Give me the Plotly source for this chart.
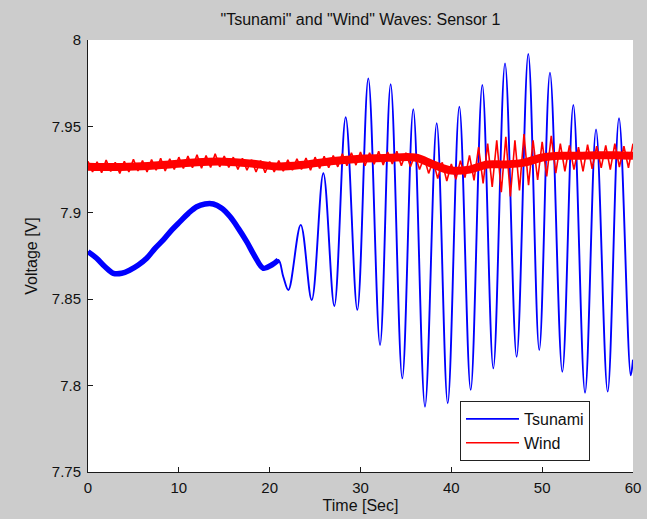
import plotly.graph_objects as go

# ---------------- data ----------------
tsunami_time = [0.0, 0.95, 1.87, 2.79, 3.71, 4.62, 5.54, 6.46, 7.38, 8.29, 9.21,
                10.13, 11.05, 11.97, 12.88, 13.8, 14.72, 15.63, 16.55, 17.47, 18.39,
                19.3, 20.22, 20.96, 21.5, 22.06, 23.42, 24.63, 25.91, 27.12, 28.37,
                29.65, 30.86, 32.15, 33.32, 34.6, 35.81, 37.1, 38.39, 39.6, 40.88,
                42.13, 43.41, 44.62, 45.91, 47.19, 48.47, 49.68, 50.86, 52.22, 53.43,
                54.72, 55.93, 57.21, 58.46, 59.75, 60.0]
tsunami_volt = [7.8775, 7.8737, 7.8688, 7.865, 7.865, 7.8669, 7.8698, 7.8737, 7.8794,
                7.8843, 7.890, 7.8949, 7.8997, 7.9035, 7.9051, 7.9051, 7.9026, 7.8978,
                7.891, 7.8833, 7.8746, 7.8679, 7.8698, 7.8727, 7.863, 7.8553, 7.893,
                7.8495, 7.9229, 7.8461, 7.9553, 7.8438, 7.9778, 7.8235, 7.9744, 7.8042,
                7.9599, 7.7878, 7.9518, 7.7898, 7.9614, 7.7975, 7.974, 7.810, 7.9865,
                7.8167, 7.9919, 7.8206, 7.9811, 7.808, 7.9624, 7.7959, 7.9483, 7.7965,
                7.9547, 7.806, 7.815]
tsunami_calm_end = 21.0   # before this time the trace is a thick noisy band

wind_center_time = [0, 3, 6, 9, 12, 15, 18, 21, 24, 27, 30, 33, 36, 38, 40, 42, 44,
                    46, 48, 50, 52, 54, 56, 58, 60]
wind_center_volt = [7.9267, 7.9265, 7.927, 7.928, 7.9293, 7.9296, 7.9285, 7.9268,
                    7.928, 7.930, 7.9313, 7.9318, 7.932, 7.928, 7.9245, 7.925, 7.928,
                    7.928, 7.929, 7.932, 7.933, 7.933, 7.9333, 7.9333, 7.933]

wind_time = [i * 0.5 for i in range(121)]
wind_volt = [7.9298, 7.9236, 7.9295, 7.9232, 7.9305, 7.9240, 7.9292, 7.9228, 7.9298, 7.9236,
             7.9310, 7.9242, 7.9302, 7.9236, 7.9308, 7.9246, 7.9316, 7.9242, 7.9312, 7.9251,
             7.9322, 7.9256, 7.9328, 7.9261, 7.9336, 7.9258, 7.9332, 7.9262, 7.9342, 7.9266,
             7.9328, 7.9262, 7.9322, 7.9251, 7.9316, 7.9246, 7.9307, 7.9236, 7.9302, 7.9232,
             7.9296, 7.9236, 7.9302, 7.9241, 7.9307, 7.9246, 7.9312, 7.9251, 7.9317, 7.9246,
             7.9322, 7.9256, 7.9327, 7.9261, 7.9332, 7.9266, 7.9342, 7.9272, 7.9347, 7.9276,
             7.9352, 7.9272, 7.9347, 7.9281, 7.9356, 7.9276, 7.9352, 7.9282, 7.9356, 7.9272,
             7.9347, 7.9266, 7.9338, 7.9250, 7.9322, 7.9228, 7.9302, 7.9198, 7.9292, 7.9184,
             7.9282, 7.9194, 7.9302, 7.9204, 7.9332, 7.9188, 7.9380, 7.9170, 7.9400, 7.9150,
             7.9420, 7.9120, 7.9440, 7.9095, 7.9420, 7.9130, 7.9455, 7.9160, 7.9420, 7.9190,
             7.9410, 7.9210, 7.9445, 7.9230, 7.9400, 7.9240, 7.9390, 7.9250, 7.9380, 7.9240,
             7.9395, 7.9255, 7.9385, 7.9260, 7.9390, 7.9250, 7.9400, 7.9265, 7.9385, 7.9260,
             7.9400]

x_tick_vals = [0, 10, 20, 30, 40, 50, 60]
y_tick_vals = [7.75, 7.8, 7.85, 7.9, 7.95, 8.0]
y_tick_text = ["7.75", "7.8", "7.85", "7.9", "7.95", "8"]

title_text = '"Tsunami" and "Wind" Waves: Sensor 1'
x_title = "Time [Sec]"
y_title = "Voltage [V]"

# ---------------- figure ----------------
FONT = "Liberation Sans, Arial, Helvetica, sans-serif"
BLUE = "#0000ff"
RED = "#ff0000"

calm_t = [t for t in tsunami_time if t <= tsunami_calm_end]
calm_v = tsunami_volt[:len(calm_t)]

fig = go.Figure()
fig.add_trace(go.Scatter(x=calm_t, y=calm_v, mode="lines",
                         line=dict(color=BLUE, width=5.5, shape="spline"),
                         showlegend=False, hoverinfo="skip"))
fig.add_trace(go.Scatter(x=tsunami_time, y=tsunami_volt, mode="lines", name="Tsunami",
                         line=dict(color=BLUE, width=1.9, shape="spline")))
fig.add_trace(go.Scatter(x=wind_center_time, y=wind_center_volt, mode="lines",
                         line=dict(color=RED, width=8, shape="spline"),
                         showlegend=False, hoverinfo="skip"))
fig.add_trace(go.Scatter(x=wind_time, y=wind_volt, mode="lines", name="Wind",
                         line=dict(color=RED, width=1.6)))

axis_common = dict(showgrid=False, zeroline=False, showline=True, linecolor="#1a1a1a",
                   linewidth=1, ticks="inside", ticklen=5, tickcolor="#1a1a1a",
                   tickfont=dict(family=FONT, size=15, color="#111111"), mirror=False)

fig.update_xaxes(range=[0, 60], tickvals=x_tick_vals, ticklabelstandoff=2,
                 title=dict(text=x_title, font=dict(family=FONT, size=16, color="#111111"),
                            standoff=4),
                 **axis_common)
fig.update_yaxes(range=[7.75, 8.0], tickvals=y_tick_vals, ticktext=y_tick_text,
                 ticklabelstandoff=3,
                 title=dict(text=y_title, font=dict(family=FONT, size=16, color="#111111"),
                            standoff=10),
                 **axis_common)

fig.update_layout(
    width=647, height=519,
    margin=dict(l=88, r=14, t=40, b=47, autoexpand=False),
    paper_bgcolor="#cccccc", plot_bgcolor="#ffffff",
    title=dict(text=title_text, x=0.5, xref="paper", y=1 - 19 / 519, yref="container",
               xanchor="center", yanchor="middle",
               font=dict(family=FONT, size=16, color="#111111")),
    legend=dict(x=(460 - 88) / 545, y=(472 - 401) / 432, xanchor="left", yanchor="top",
                bgcolor="#ffffff", bordercolor="#222222", borderwidth=1, itemwidth=53,
                font=dict(family=FONT, size=16, color="#111111"), tracegroupgap=0),
    font=dict(family=FONT),
)

fig.write_html("out.html",
               config={"displayModeBar": False},
               post_script="document.body.style.margin='0px';"
                           "document.body.style.background='#cccccc';")
